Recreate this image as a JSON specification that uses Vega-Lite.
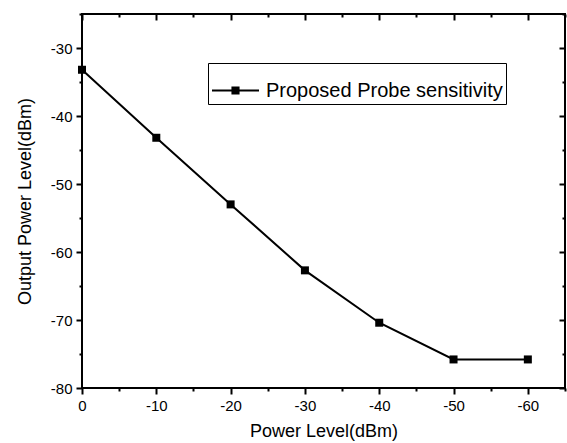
{
  "$schema": "https://vega.github.io/schema/vega-lite/v6.json",
  "autosize": {"type": "none"},
  "padding": {"left": 82, "top": 14, "right": 2, "bottom": 55},
  "width": 483,
  "height": 374,
  "background": "white",
  "config": {
    "font": "Liberation Sans",
    "view": {"stroke": "black", "strokeWidth": 2},
    "axis": {"grid": false, "domain": false, "ticks": true, "tickColor": "black", "tickOpacity": 1, "tickRound": true, "labelColor": "black", "titleColor": "black", "labelFont": "Liberation Sans", "titleFont": "Liberation Sans", "titleFontWeight": "normal"}
  },
  "data": {
    "values": [
      {"x": 0, "y": -33.2, "series": "Proposed Probe sensitivity"},
      {"x": -10, "y": -43.2, "series": "Proposed Probe sensitivity"},
      {"x": -20, "y": -53.0, "series": "Proposed Probe sensitivity"},
      {"x": -30, "y": -62.7, "series": "Proposed Probe sensitivity"},
      {"x": -40, "y": -70.4, "series": "Proposed Probe sensitivity"},
      {"x": -50, "y": -75.8, "series": "Proposed Probe sensitivity"},
      {"x": -60, "y": -75.8, "series": "Proposed Probe sensitivity"}
    ]
  },
  "resolve": {"axis": {"x": "independent", "y": "independent"}},
  "layer": [
    {
      "mark": {"type": "line", "strokeWidth": 2, "color": "black"},
      "encoding": {
        "x": {"field": "x", "type": "quantitative", "scale": {"domain": [0, -65], "nice": false, "zero": false},
          "axis": {"orient": "bottom", "title": "Power Level(dBm)", "values": [0, -10, -20, -30, -40, -50, -60], "labelExpr": "replace(datum.label, '−', '-')", "tickSize": 6, "tickWidth": 2, "tickColor": "black", "labelFontSize": 15, "labelPadding": 4, "titleFontSize": 18, "titlePadding": 9, "labelFlush": false}},
        "y": {"field": "y", "type": "quantitative", "scale": {"domain": [-80, -25], "nice": false, "zero": false},
          "axis": {"orient": "left", "title": "Output Power Level(dBm)", "values": [-80, -70, -60, -50, -40, -30], "labelExpr": "replace(datum.label, '−', '-')", "tickSize": 6, "tickWidth": 2, "tickColor": "black", "labelFontSize": 15, "labelPadding": 4, "titleFontSize": 18, "titlePadding": 16, "labelFlush": false}},
        "color": {"field": "series", "type": "nominal", "scale": {"range": ["black"]},
          "legend": {"title": null, "orient": "none", "legendX": 126, "legendY": 49, "strokeColor": "black", "padding": 3, "labelFontSize": 20, "labelFont": "Liberation Sans", "labelColor": "black", "labelOffset": 6, "labelLimit": 400,
            "symbolType": "M-1,0H1M-0.13,-0.13H0.13V0.13H-0.13Z", "symbolSize": 2209, "symbolStrokeWidth": 2, "symbolFillColor": "black", "symbolStrokeColor": "black", "fillColor": "white"}}
      }
    },
    {
      "mark": {"type": "point", "shape": "square", "filled": true, "size": 64, "color": "black", "opacity": 1},
      "encoding": {
        "x": {"field": "x", "type": "quantitative", "axis": {"orient": "bottom", "title": null, "labels": false, "values": [-5, -15, -25, -35, -45, -55, -65], "tickSize": 3, "tickWidth": 2, "tickColor": "black"}},
        "y": {"field": "y", "type": "quantitative", "axis": {"orient": "left", "title": null, "labels": false, "values": [-75, -65, -55, -45, -35, -25], "tickSize": 3, "tickWidth": 2, "tickColor": "black"}}
      }
    },
    {
      "mark": {"type": "point", "opacity": 0},
      "encoding": {
        "x": {"field": "x", "type": "quantitative", "axis": {"orient": "top", "title": null, "labels": false, "values": [0, -10, -20, -30, -40, -50, -60], "tickSize": -6, "tickWidth": 2, "tickColor": "black"}},
        "y": {"field": "y", "type": "quantitative", "axis": {"orient": "right", "title": null, "labels": false, "values": [-80, -70, -60, -50, -40, -30], "tickSize": -6, "tickWidth": 2, "tickColor": "black"}}
      }
    },
    {
      "mark": {"type": "point", "opacity": 0},
      "encoding": {
        "x": {"field": "x", "type": "quantitative", "axis": {"orient": "top", "title": null, "labels": false, "values": [-5, -15, -25, -35, -45, -55, -65], "tickSize": -3, "tickWidth": 2, "tickColor": "black"}},
        "y": {"field": "y", "type": "quantitative", "axis": {"orient": "right", "title": null, "labels": false, "values": [-75, -65, -55, -45, -35, -25], "tickSize": -3, "tickWidth": 2, "tickColor": "black"}}
      }
    }
  ]
}
